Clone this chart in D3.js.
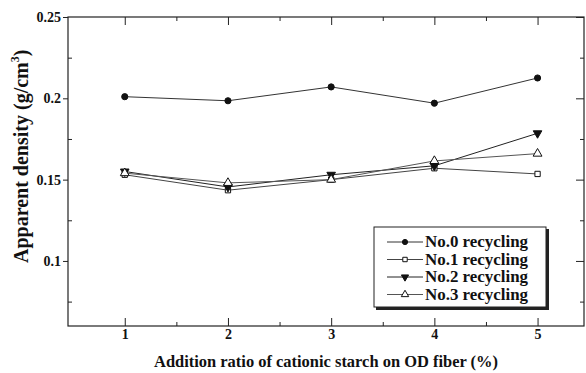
<!DOCTYPE html>
<html>
<head>
<meta charset="utf-8">
<script src="https://cdn.jsdelivr.net/npm/d3@7"></script>
<style>
  body { margin: 0; background: #fff; }
  text { font-family: "Liberation Serif", "Times New Roman", serif; font-weight: bold; fill: #111; }
</style>
</head>
<body>
<div id="chart"></div>
<script>
// data
const ratios = [1, 2, 3, 4, 5];
const no0 = [0.201, 0.1985, 0.207, 0.197, 0.2125];
const no1 = [0.153, 0.1435, 0.150, 0.157, 0.1535];
const no2 = [0.155, 0.1455, 0.153, 0.1585, 0.1785];
const no3 = [0.154, 0.148, 0.150, 0.1615, 0.166];
const seriesNames = ["No.0 recycling", "No.1 recycling", "No.2 recycling", "No.3 recycling"];
const yTicks = [0.1, 0.15, 0.2, 0.25];
const yTickLabels = ["0.1", "0.15", "0.2", "0.25"];

const width = 586, height = 373;
const margin = {top: 17, right: 2, bottom: 47, left: 68};

const svg = d3.select("#chart").append("svg")
    .attr("width", width)
    .attr("height", height);

const x = d3.scaleLinear().domain([0.45, 5.45]).range([margin.left, width - margin.right]);
const y = d3.scaleLinear().domain([0.06, 0.25]).range([height - margin.bottom, margin.top]);

const axisCol = "#222";

// frame
const x0 = x.range()[0], x1 = x.range()[1], y0 = y.range()[0], y1 = y.range()[1];
svg.append("rect")
    .attr("x", x0).attr("y", y1)
    .attr("width", x1 - x0).attr("height", y0 - y1)
    .attr("fill", "none").attr("stroke", axisCol).attr("stroke-width", 1.2);

// bottom / top axes (ticks pointing inward)
const xMinor = [1.5, 2.5, 3.5, 4.5];
const gB = svg.append("g").attr("transform", `translate(0,${y0})`)
    .call(d3.axisBottom(x).tickValues(ratios).tickSize(-8).tickPadding(1).tickFormat(d3.format("d")));
gB.select(".domain").remove();
gB.selectAll("text").attr("font-size", 14).attr("dy", 0).attr("y", 13);
svg.append("g").attr("transform", `translate(0,${y0})`)
    .call(d3.axisBottom(x).tickValues(xMinor).tickSize(-4).tickFormat(""))
    .select(".domain").remove();
svg.append("g").attr("transform", `translate(0,${y1})`)
    .call(d3.axisTop(x).tickValues(ratios).tickSize(-8).tickFormat(""))
    .select(".domain").remove();
svg.append("g").attr("transform", `translate(0,${y1})`)
    .call(d3.axisTop(x).tickValues(xMinor).tickSize(-4).tickFormat(""))
    .select(".domain").remove();

// left / right axes
const yMinor = [0.075, 0.125, 0.175, 0.225];
const gL = svg.append("g").attr("transform", `translate(${x0},0)`)
    .call(d3.axisLeft(y).tickValues(yTicks).tickSize(5).tickPadding(2)
        .tickFormat((d, i) => yTickLabels[i]));
gL.select(".domain").remove();
gL.selectAll("text").attr("font-size", 14);
svg.append("g").attr("transform", `translate(${x0},0)`)
    .call(d3.axisLeft(y).tickValues(yMinor).tickSize(-4).tickFormat(""))
    .select(".domain").remove();
svg.append("g").attr("transform", `translate(${x1},0)`)
    .call(d3.axisRight(y).tickValues(yTicks).tickSize(-8).tickFormat(""))
    .select(".domain").remove();
svg.append("g").attr("transform", `translate(${x1},0)`)
    .call(d3.axisRight(y).tickValues(yMinor).tickSize(-4).tickFormat(""))
    .select(".domain").remove();

svg.selectAll(".tick line").attr("stroke", axisCol);

// axis titles
svg.append("text")
    .attr("x", (x0 + x1) / 2).attr("y", 367)
    .attr("text-anchor", "middle").attr("font-size", 16)
    .attr("textLength", 344).attr("lengthAdjust", "spacingAndGlyphs")
    .text("Addition ratio of cationic starch on OD fiber (%)");

const yt = svg.append("text")
    .attr("font-size", 20)
    .attr("transform", "translate(28,263) rotate(-90)");
yt.append("tspan").text("Apparent density (g/cm");
yt.append("tspan").attr("font-size", 12).attr("dy", -9).text("3");
yt.append("tspan").attr("dy", 9).text(")");

// series
const allSeries = [no0, no1, no2, no3];
const symbols = [
  {type: d3.symbolCircle, fill: "#111", size: 30},
  {type: d3.symbolSquare, fill: "#fff", size: 28},
  {type: d3.symbolTriangle, fill: "#111", size: 32, rot: 180},
  {type: d3.symbolTriangle, fill: "#fff", size: 34}
];
const lineCol = ["#333", "#444", "#222", "#555"];

const line = d3.line().x((d, i) => x(ratios[i])).y(d => y(d));

allSeries.forEach((vals, s) => {
  svg.append("path")
      .datum(vals)
      .attr("d", line)
      .attr("fill", "none")
      .attr("stroke", lineCol[s])
      .attr("stroke-width", 1);
});

allSeries.forEach((vals, s) => {
  const sym = symbols[s];
  svg.selectAll(null)
      .data(vals)
      .join("path")
      .attr("d", d3.symbol().type(sym.type).size(sym.size))
      .attr("transform", (d, i) => `translate(${x(ratios[i])},${y(d)})` + (sym.rot ? ` rotate(${sym.rot})` : ""))
      .attr("fill", sym.fill)
      .attr("stroke", "#111")
      .attr("stroke-width", 1);
});

// legend
const lg = svg.append("g").attr("transform", "translate(374,227)");
lg.append("rect").attr("x", 2).attr("y", 2).attr("width", 173).attr("height", 81).attr("fill", "#222");
lg.append("rect").attr("x", 0).attr("y", 0).attr("width", 172).attr("height", 80)
    .attr("fill", "#fff").attr("stroke", "#222").attr("stroke-width", 1);
seriesNames.forEach((name, s) => {
  const ry = 15 + s * 17.5;
  const sym = symbols[s];
  lg.append("line").attr("x1", 13).attr("x2", 49).attr("y1", ry).attr("y2", ry)
      .attr("stroke", lineCol[s]).attr("stroke-width", 1);
  lg.append("path")
      .attr("d", d3.symbol().type(sym.type).size(sym.size * 0.7))
      .attr("transform", `translate(31,${ry})` + (sym.rot ? ` rotate(${sym.rot})` : ""))
      .attr("fill", sym.fill).attr("stroke", "#111").attr("stroke-width", 1);
  lg.append("text").attr("x", 51).attr("y", ry + 5)
      .attr("font-size", 16)
      .attr("textLength", 103).attr("lengthAdjust", "spacingAndGlyphs")
      .text(name);
});
</script>
</body>
</html>
